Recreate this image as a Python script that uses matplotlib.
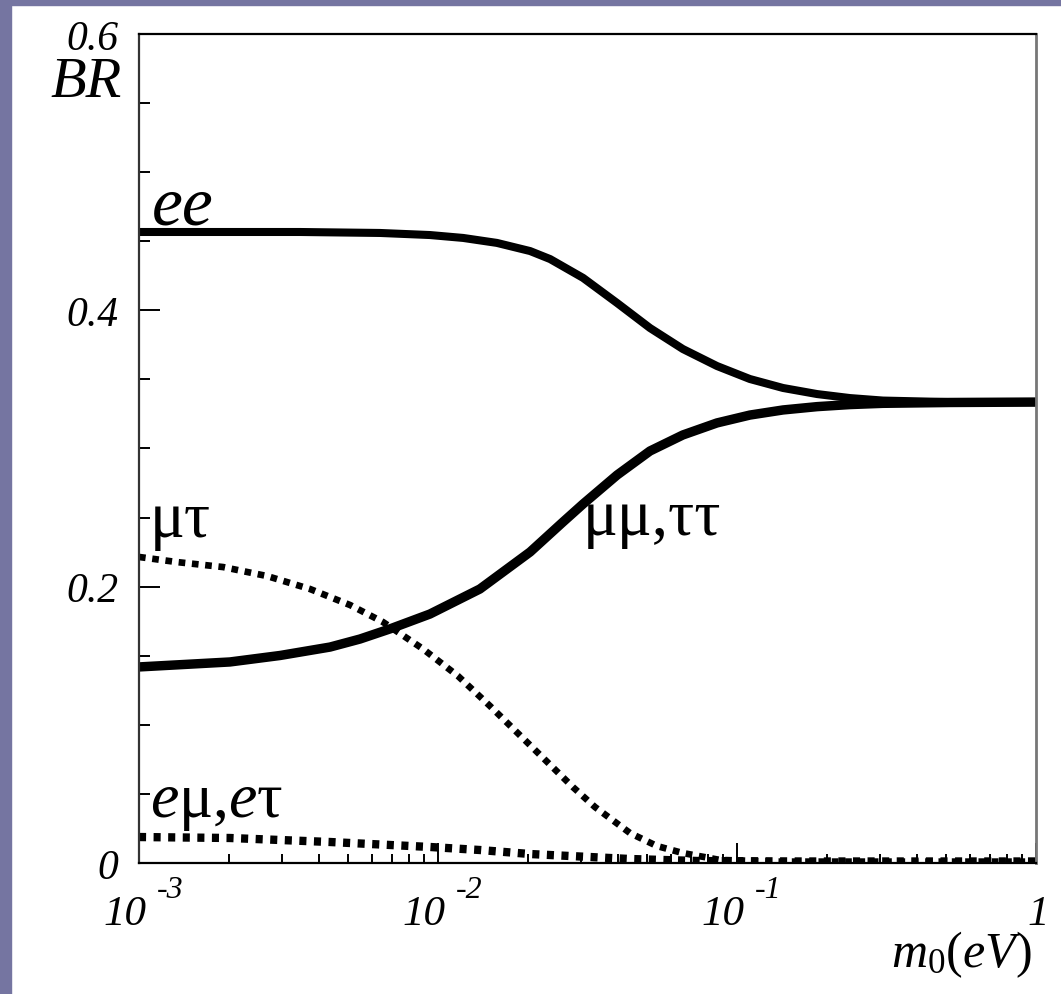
import numpy as np
import matplotlib
matplotlib.use("Agg")
import matplotlib.pyplot as plt
from matplotlib.ticker import MultipleLocator, LogLocator, NullFormatter
from matplotlib.transforms import blended_transform_factory, offset_copy
from matplotlib.patches import Rectangle

plt.rcParams['mathtext.fontset'] = 'custom'
plt.rcParams['mathtext.it'] = 'Liberation Serif:italic'
plt.rcParams['mathtext.rm'] = 'Liberation Serif'
plt.rcParams['font.family'] = ['Liberation Serif', 'DejaVu Serif']

# ---- data (log10 of m0 in eV, branching ratios) ----
ee_logm = [-3.0, -2.4615, -2.194, -2.027, -1.916, -1.803, -1.692, -1.625, -1.515, -1.401,
           -1.291, -1.181, -1.067, -0.957, -0.846, -0.732, -0.622, -0.512, -0.288, 0.0]
ee_br = [0.4567, 0.4567, 0.4560, 0.4545, 0.4524, 0.4488, 0.4429, 0.4371, 0.4235, 0.4053,
         0.3872, 0.3720, 0.3597, 0.3503, 0.3438, 0.3394, 0.3365, 0.3347, 0.3336, 0.3336]

mumu_logm = [-3.0, -2.696, -2.528, -2.361, -2.261, -2.161, -2.027, -1.860, -1.692, -1.582,
             -1.515, -1.401, -1.291, -1.181, -1.067, -0.957, -0.846, -0.732, -0.622, -0.512,
             -0.288, 0.0]
mumu_br = [0.1419, 0.1455, 0.1502, 0.1563, 0.1621, 0.1694, 0.1802, 0.1983, 0.2251, 0.2468,
           0.2598, 0.2808, 0.2982, 0.3098, 0.3185, 0.3242, 0.3279, 0.3303, 0.3318, 0.3327,
           0.3333, 0.3336]

mutau_logm = [-3.0, -2.873, -2.719, -2.572, -2.428, -2.294, -2.184, -2.050, -1.933, -1.826,
              -1.686, -1.549, -1.475, -1.358, -1.268, -1.181, -1.057, -0.856, 0.0]
mutau_br = [0.2215, 0.2178, 0.2142, 0.2077, 0.1983, 0.1867, 0.1744, 0.1549, 0.1353, 0.1136,
            0.0840, 0.0550, 0.0405, 0.0217, 0.0123, 0.0072, 0.0022, 0.0010, 0.0010]

emu_logm = [-3.0, -2.696, -2.361, -2.027, -1.860, -1.692, -1.525, -1.358, -1.124, -0.789, 0.0]
emu_br = [0.0188, 0.0181, 0.0152, 0.0116, 0.0094, 0.0065, 0.0047, 0.0029, 0.0014, 0.0011, 0.0011]

labels = {'ee': 'ee', 'mutau': 'μτ', 'mumu': 'μμ,ττ', 'emu': r'$e$μ,$e$τ'}

W, H = 1061, 995
fig = plt.figure(figsize=(W / 100, H / 100), dpi=100)
fig.patch.set_facecolor('white')
border = '#7575a1'
fig.patches.append(Rectangle((0, 0), 11 / W, 1, transform=fig.transFigure, color=border, zorder=0))
fig.patches.append(Rectangle((0, 1 - 6 / H), 1, 6 / H, transform=fig.transFigure, color=border, zorder=0))

L, R, T, B = 139, 1036, 35, 864
ax = fig.add_axes([L / W, 1 - B / H, (R - L) / W, (B - T) / H])
ax.set_xscale('log')
ax.set_xlim(1e-3, 1)
ax.set_ylim(0, 0.6)

def m(v):
    return 10 ** np.asarray(v)

ax.plot(m(ee_logm), ee_br, color='black', lw=5.8, solid_capstyle='butt', solid_joinstyle='round')
ax.plot(m(mumu_logm), mumu_br, color='black', lw=6.8, solid_capstyle='butt', solid_joinstyle='round')
ax.plot(m(mutau_logm), mutau_br, color='black', lw=4.8, linestyle=(0, (1, 1)), dash_capstyle='butt')
ax.plot(m(emu_logm), emu_br, color='black', lw=6.0, linestyle=(0, (0.85, 0.9)), dash_capstyle='butt')

# spines
for s in ['top', 'bottom']:
    ax.spines[s].set_color('black')
    ax.spines[s].set_linewidth(1.6)
ax.spines['left'].set_color('#333333')
ax.spines['left'].set_linewidth(1.6)
ax.spines['right'].set_color('#777777')
ax.spines['right'].set_linewidth(2.0)

# ticks
ax.yaxis.set_major_locator(MultipleLocator(0.2))
ax.yaxis.set_minor_locator(MultipleLocator(0.05))
ax.xaxis.set_major_locator(LogLocator(base=10, numticks=10))
ax.xaxis.set_minor_locator(LogLocator(base=10, subs=np.arange(2, 10), numticks=20))
ax.xaxis.set_minor_formatter(NullFormatter())
ax.tick_params(axis='y', which='major', direction='in', length=15, width=1.4, left=True, right=False, pad=15)
ax.tick_params(axis='y', which='minor', direction='in', length=8, width=1.4, left=True, right=False)
ax.tick_params(axis='x', which='major', direction='in', length=14.5, width=1.4, bottom=True, top=False, labelbottom=False)
ax.tick_params(axis='x', which='minor', direction='in', length=6.5, width=1.4, bottom=True, top=False)

yticks = [0, 0.2, 0.4, 0.6]
ytick_labels = ['0', '0.2', '0.4', '0.6']
ax.set_yticks(yticks)
ax.set_yticklabels(ytick_labels, fontsize=30, fontstyle='italic', family='Liberation Serif')

# x tick labels, drawn as text (ROOT-like 10^{n} layout)
xtick_vals = [1e-3, 1e-2, 1e-1, 1]
xtick_exps = ['-3', '-2', '-1', None]
bt = blended_transform_factory(ax.transData, ax.transAxes)
for v, e in zip(xtick_vals, xtick_exps):
    if e is None:
        ax.text(v, 0, '1', transform=offset_copy(bt, fig, x=2, y=-61, units='dots'),
                ha='center', va='baseline', fontsize=31, fontstyle='italic')
    else:
        ax.text(v, 0, '10', transform=offset_copy(bt, fig, x=7, y=-61, units='dots'),
                ha='right', va='baseline', fontsize=31, fontstyle='italic')
        ax.text(v, 0, e, transform=offset_copy(bt, fig, x=18, y=-34, units='dots'),
                ha='left', va='baseline', fontsize=23, fontstyle='italic')

# axis titles
fig.text(50 / W, 1 - 97 / H, 'BR', fontsize=42, fontstyle='italic', ha='left', va='baseline')
fig.text(1032 / W, 1 - 967 / H, r'$\mathit{m}_{\mathit{0}}\mathit{(eV)}$', fontsize=36,
         ha='right', va='baseline')

# curve labels
def axpos(px, py):
    return (px - L) / (R - L), (B - py) / (B - T)

ax.text(*axpos(152, 225), labels['ee'], transform=ax.transAxes, fontsize=50, fontstyle='italic',
        ha='left', va='baseline')
ax.text(*axpos(150, 537), labels['mutau'], transform=ax.transAxes, fontsize=47,
        ha='left', va='baseline')
ax.text(*axpos(583, 535), labels['mumu'], transform=ax.transAxes, fontsize=47,
        ha='left', va='baseline')
ax.text(*axpos(150, 817), labels['emu'], transform=ax.transAxes, fontsize=46,
        ha='left', va='baseline')

fig.savefig('out.png', dpi=100, facecolor='white')
